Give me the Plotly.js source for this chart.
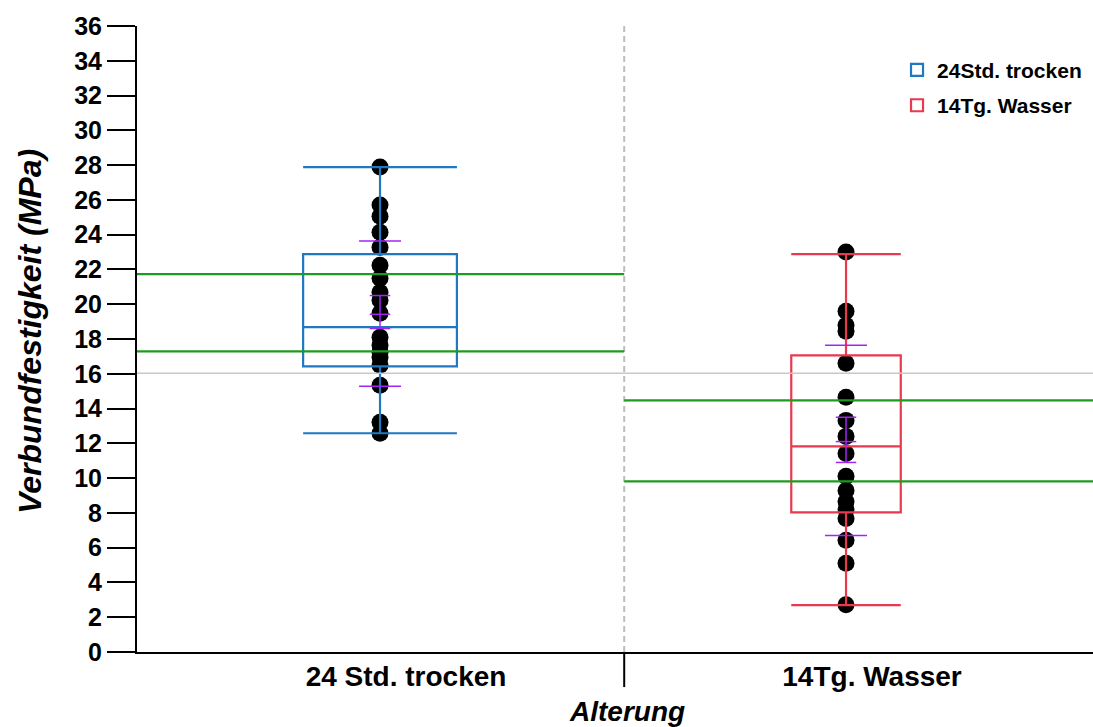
<!DOCTYPE html>
<html>
<head>
<meta charset="utf-8">
<script src="https://cdn.plot.ly/plotly-3.0.1.min.js"></script>
<style>html,body{margin:0;padding:0;background:#fff;}#chart{width:1093px;height:727px;}</style>
</head>
<body>
<div id="chart"></div>
<script>
// ---- data ----
const categories = ['24 Std. trocken', '14Tg. Wasser'];
const legendNames = ['24Std. trocken', '14Tg. Wasser'];
const trockenValues = [27.89, 25.70, 25.06, 24.14, 23.28, 22.24, 21.50, 20.69, 20.23, 19.48,
                       18.10, 17.64, 17.24, 16.95, 16.49, 15.34, 13.21, 12.58];
const wasserValues = [23.0, 19.6, 18.79, 18.45, 16.60, 14.65, 13.32, 12.40, 11.42, 10.10,
                      9.29, 8.66, 8.20, 7.68, 6.42, 5.10, 2.72];
const q1 = [16.43, 8.03];
const median = [18.68, 11.83];
const q3 = [22.88, 17.06];
const lowerFence = [12.58, 2.70];
const upperFence = [27.88, 22.88];
const stdDevLines = [[23.63, 15.28], [17.64, 6.70]];        // long purple marks
const meanCiLines = [[20.50, 19.42, 18.60], [13.50, 12.10, 10.90]]; // short purple marks
const groupLevels = [[21.73, 17.29], [14.47, 9.81]];         // green lines
const grandMean = 16.03;                                     // grey reference line
const xTitle = 'Alterung';
const yTitle = 'Verbundfestigkeit (MPa)';

// ---- styling ----
const FONT = 'Liberation Sans, Arial, sans-serif';
const boxColors = ['#1f78c1', '#e8394f'];
const boxWidths = [0.33, 0.235];
const X_RANGE = [-0.5215, 1.53];
const SEP = 0.524;
const groups = [trockenValues, wasserValues];

const traces = [];
// points (drawn first, inside box layer so box lines sit on top)
groups.forEach((vals, i) => {
  traces.push({
    type: 'box',
    x: vals.map(() => categories[i]),
    y: vals,
    boxpoints: 'all', jitter: 0, pointpos: 0,
    width: boxWidths[i],
    marker: {color: '#000', size: 17, line: {width: 0}},
    line: {color: 'rgba(0,0,0,0)', width: 0},
    fillcolor: 'rgba(0,0,0,0)',
    showlegend: false, hoverinfo: 'skip'
  });
});
// precomputed boxes
categories.forEach((c, i) => {
  traces.push({
    type: 'box',
    name: legendNames[i],
    legendgroup: 'g' + i,
    x: [c],
    q1: [q1[i]], median: [median[i]], q3: [q3[i]],
    lowerfence: [lowerFence[i]], upperfence: [upperFence[i]],
    boxpoints: false,
    width: boxWidths[i],
    whiskerwidth: 1,
    line: {color: boxColors[i], width: 2.2},
    fillcolor: 'rgba(0,0,0,0)',
    showlegend: true
  });
});

const shapes = [];
// grey grand mean line
shapes.push({type: 'line', layer: 'above', xref: 'paper', x0: 0, x1: 1, yref: 'y', y0: grandMean, y1: grandMean,
  line: {color: '#c8c8c8', width: 1.5}});
// green lines
groupLevels.forEach((lv, i) => {
  const xa = i === 0 ? X_RANGE[0] : SEP;
  const xb = i === 0 ? SEP : X_RANGE[1];
  lv.forEach(v => shapes.push({type: 'line', layer: 'above', xref: 'x', x0: xa, x1: xb, yref: 'y', y0: v, y1: v,
    line: {color: '#1e9a1e', width: 2.2}}));
});
// purple marks
const PURPLE = '#a324f5';
categories.forEach((c, i) => {
  stdDevLines[i].forEach(v => shapes.push({type: 'line', layer: 'above', xref: 'x', x0: i - 0.045, x1: i + 0.045,
    yref: 'y', y0: v, y1: v, line: {color: PURPLE, width: 1.5}}));
  meanCiLines[i].forEach(v => shapes.push({type: 'line', layer: 'above', xref: 'x', x0: i - 0.022, x1: i + 0.022,
    yref: 'y', y0: v, y1: v, line: {color: PURPLE, width: 1.5}}));
  const ci = meanCiLines[i];
  shapes.push({type: 'line', layer: 'above', xref: 'x', x0: i, x1: i, yref: 'y',
    y0: Math.min(...ci), y1: Math.max(...ci), line: {color: PURPLE, width: 1.5}});
});
// separator
shapes.push({type: 'line', layer: 'below', xref: 'x', x0: SEP, x1: SEP, yref: 'paper', y0: 0, y1: 1.006,
  line: {color: '#bdbdbd', width: 2, dash: '6px,4px'}});
shapes.push({type: 'line', layer: 'above', xref: 'x', x0: SEP, x1: SEP, yref: 'paper', y0: 0, y1: -0.056,
  line: {color: '#000', width: 2}});

const layout = {
  width: 1093, height: 727,
  margin: {l: 137, r: 0, t: 26, b: 75},
  paper_bgcolor: '#fff', plot_bgcolor: '#fff',
  boxmode: 'overlay',
  showlegend: true,
  legend: {x: 0.795, y: 0.962, xanchor: 'left', yanchor: 'top', bgcolor: 'rgba(0,0,0,0)',
    font: {family: FONT, size: 21, color: '#000', weight: 'bold'}, tracegroupgap: 5},
  xaxis: {
    type: 'category', categoryarray: categories, categoryorder: 'array',
    range: X_RANGE, showgrid: false, zeroline: false,
    showline: true, linecolor: '#000', linewidth: 2, ticks: '',
    tickfont: {family: FONT, size: 28, color: '#000', weight: 'bold'},
    ticklabelstandoff: -2, ticklabelshift: 26
  },
  yaxis: {
    range: [0, 36], dtick: 2, tick0: 0, showgrid: false, zeroline: false,
    showline: true, linecolor: '#000', linewidth: 2,
    ticks: 'outside', ticklen: 28, tickwidth: 2, tickcolor: '#000',
    tickfont: {family: FONT, size: 25, color: '#000', weight: 'bold'}
  },
  annotations: [{
    text: xTitle, xref: 'paper', yref: 'paper', x: 0.5126, y: -0.0958, xanchor: 'center', yanchor: 'middle',
    showarrow: false, font: {family: FONT, size: 28, color: '#000', weight: 'bold', style: 'italic'}
  }, {
    text: yTitle, xref: 'paper', yref: 'paper', x: -0.112, y: 0.5128, xanchor: 'center', yanchor: 'middle',
    textangle: -90, showarrow: false, font: {family: FONT, size: 32, color: '#000', weight: 'bold', style: 'italic'}
  }],
  shapes: shapes
};

Plotly.newPlot('chart', traces, layout, {displayModeBar: false, staticPlot: true});
</script>
</body>
</html>
